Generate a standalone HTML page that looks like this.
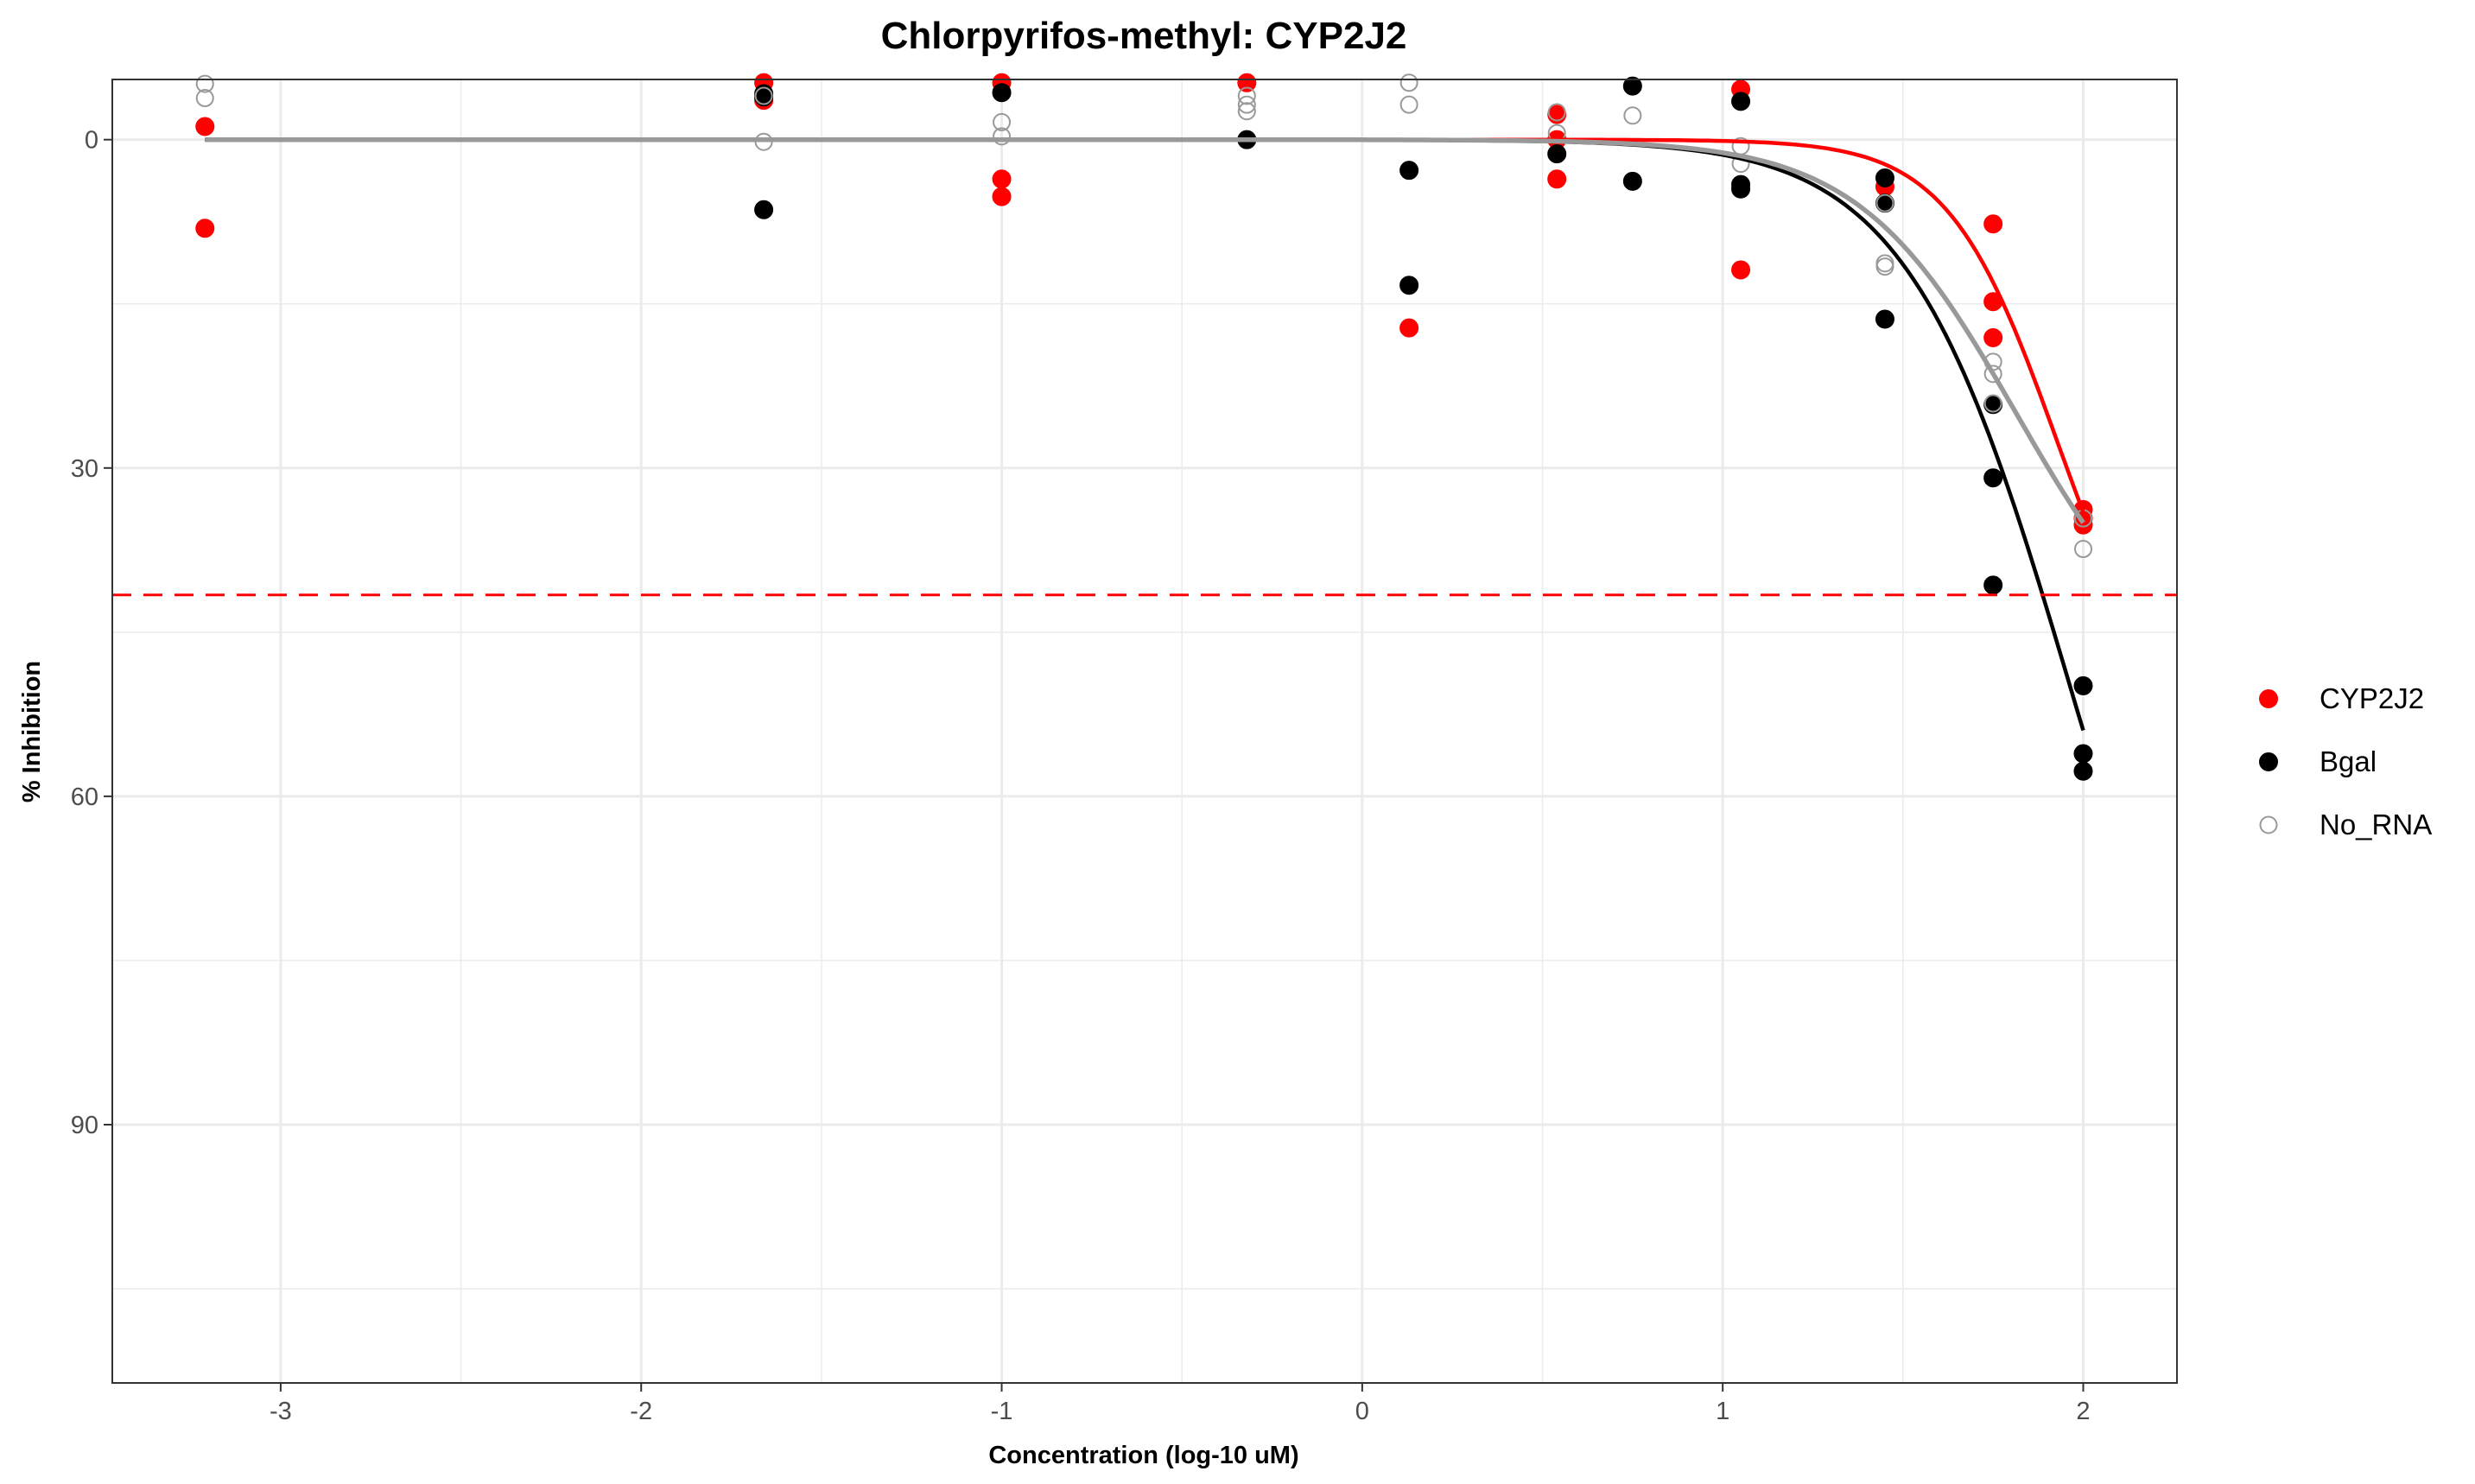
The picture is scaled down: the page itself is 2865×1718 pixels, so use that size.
<!DOCTYPE html>
<html><head><meta charset="utf-8"><style>
html,body{margin:0;padding:0;background:#fff;}
svg{display:block;font-family:"Liberation Sans",sans-serif;}
</style></head><body>
<svg id="chart" width="2865" height="1718" viewBox="0 0 2865 1718" xmlns="http://www.w3.org/2000/svg">
<rect x="0" y="0" width="2865" height="1718" fill="#fff"/>
<text x="1324" y="56" text-anchor="middle" font-size="44" font-weight="bold">Chlorpyrifos-methyl: CYP2J2</text>
<g id="grid"></g>
<g id="plot"></g>
<rect x="130" y="92" width="2390" height="1509" fill="none" stroke="#333" stroke-width="2"/>
<g id="axes"></g>
<text x="1324" y="1694" text-anchor="middle" font-size="29" font-weight="bold">Concentration (log-10 uM)</text>
<text transform="translate(46,847) rotate(-90)" text-anchor="middle" font-size="29" font-weight="bold">% Inhibition</text>
<g id="legend"></g>
</svg>
<script>
const xTicks = [-3, -2, -1, 0, 1, 2];
const yTicks = [0, 30, 60, 90];
const seriesNames = ["CYP2J2", "Bgal", "No_RNA"];
const cypX = [-3.21,-3.21,-1.66,-1.66,-1.0,-1.0,-1.0,-0.32,0.13,0.54,0.54,0.54,1.05,1.05,1.45,1.75,1.75,1.75,2.0,2.0,2.0];
const cypY = [-1.2,8.1,-3.6,-5.8,3.6,5.2,-5.8,-6,17.2,-2.3,0,3.6,-4.6,11.9,4.3,7.7,14.8,18.1,33.8,34.6,35.2];
const bgalX = [-1.66,-1.66,-1.66,-1.0,-0.32,0.13,0.13,0.54,0.75,0.75,1.05,1.05,1.05,1.45,1.45,1.45,1.75,1.75,1.75,2.0,2.0,2.0];
const bgalY = [-4.2,-3.9,6.4,-4.3,0,2.8,13.3,1.3,-4.9,3.8,-3.5,4.1,4.5,3.5,5.8,16.4,24.2,30.9,40.7,49.9,56.1,57.7];
const noX = [-3.21,-3.21,-1.66,-1.66,-1.0,-1.0,-0.32,-0.32,-0.32,0.13,0.13,0.54,0.54,0.75,1.05,1.05,1.45,1.45,1.45,1.75,1.75,1.75,2.0,2.0];
const noY = [-5.1,-3.8,0.2,-4,-1.6,-0.3,-4,-3.2,-2.6,-5.4,-3.2,-2.5,-0.6,-2.2,0.6,2.2,5.8,11.3,11.6,20.3,21.4,24.1,34.6,37.4];
const fitTop = [55, 100, 50];
const fitEC50 = [1.927, 1.964, 1.814];
const fitHill = [2.87, 1.92, 1.98];
const threshold = 41.6;

const NS="http://www.w3.org/2000/svg";
const L=130,R=2520,T=92,B=1601;
const xMin=-3.467,xMax=2.26,yMin=-5.5,yMax=113.6;
const sx=v=>L+(v-xMin)/(xMax-xMin)*(R-L);
const sy=v=>T+(v-yMin)/(yMax-yMin)*(B-T);
function mk(tag,attrs,parent){const e=document.createElementNS(NS,tag);for(const k in attrs)e.setAttribute(k,attrs[k]);parent.appendChild(e);return e;}
const grid=document.getElementById('grid'),plot=document.getElementById('plot'),axes=document.getElementById('axes'),legend=document.getElementById('legend');

for(let i=0;i<xTicks.length-1;i++){const v=(xTicks[i]+xTicks[i+1])/2;
  const l=mk('line',{x1:sx(v),x2:sx(v),y1:T,y2:B,stroke:'#ebebeb','stroke-width':1.5},grid);
  
  }
for(let i=0;i<yTicks.length;i++){const v=yTicks[i]+15;
  const l=mk('line',{x1:L,x2:R,y1:sy(v),y2:sy(v),stroke:'#ebebeb','stroke-width':1.5},grid);
  
  }
xTicks.forEach(v=>{
  const l=mk('line',{x1:sx(v),x2:sx(v),y1:T,y2:B,stroke:'#ebebeb','stroke-width':3},grid);
  
  
  const t=mk('line',{x1:sx(v),x2:sx(v),y1:B,y2:B+10,stroke:'#333','stroke-width':2},axes);
  
  
  const tx=mk('text',{x:sx(v),y:B+42,'text-anchor':'middle','font-size':29,fill:'#4d4d4d'},axes);
  tx.textContent=String(v);
  
  
});
yTicks.forEach(v=>{
  const l=mk('line',{x1:L,x2:R,y1:sy(v),y2:sy(v),stroke:'#ebebeb','stroke-width':3},grid);
  
  
  const t=mk('line',{x1:L-10,x2:L,y1:sy(v),y2:sy(v),stroke:'#333','stroke-width':2},axes);
  
  
  const tx=mk('text',{x:L-16,y:sy(v)+10,'text-anchor':'end','font-size':29,fill:'#4d4d4d'},axes);
  tx.textContent=String(v);
  
  
});

const colors=['#ff0000','#000000','#999999'];
const xs=[cypX,bgalX,noX], ys=[cypY,bgalY,noY];
for(let s=0;s<3;s++){
  for(let i=0;i<xs[s].length;i++){
    const yv=Math.max(ys[s][i],yMin+0.3);
    const c=mk('circle',{cx:sx(xs[s][i]),cy:sy(yv),r:s==2?9.5:10.5,fill:s==2?'none':colors[s],stroke:colors[s],'stroke-width':s==2?2:1},plot);
    
    
  }
}
for(let s=0;s<3;s++){
  let d='';
  for(let k=0;k<=300;k++){const x=-3.21+(2.0+3.21)*k/300;
    const y=fitTop[s]/(1+Math.pow(10,fitHill[s]*(fitEC50[s]-x)));
    d+=(k?'L':'M')+sx(x).toFixed(1)+','+sy(y).toFixed(1);}
  const p=mk('path',{d:d,fill:'none',stroke:colors[s],'stroke-width':s==2?5.5:4.5},plot);
  
  
}
const th=mk('line',{x1:L,x2:R,y1:sy(threshold),y2:sy(threshold),stroke:'#ff0000','stroke-width':3,'stroke-dasharray':'22,14'},plot);



seriesNames.forEach((n,i)=>{
  const y=809+i*73;
  const g=mk('g',{},legend);
  
  
  mk('circle',{cx:2626,cy:y,r:i==2?9.5:10.5,fill:i==2?'none':colors[i],stroke:colors[i],'stroke-width':i==2?2:1},g);
  const t=mk('text',{x:2685,y:y+11,'font-size':33,fill:'#000'},g);
  t.textContent=n;
});
</script>
</body></html>
